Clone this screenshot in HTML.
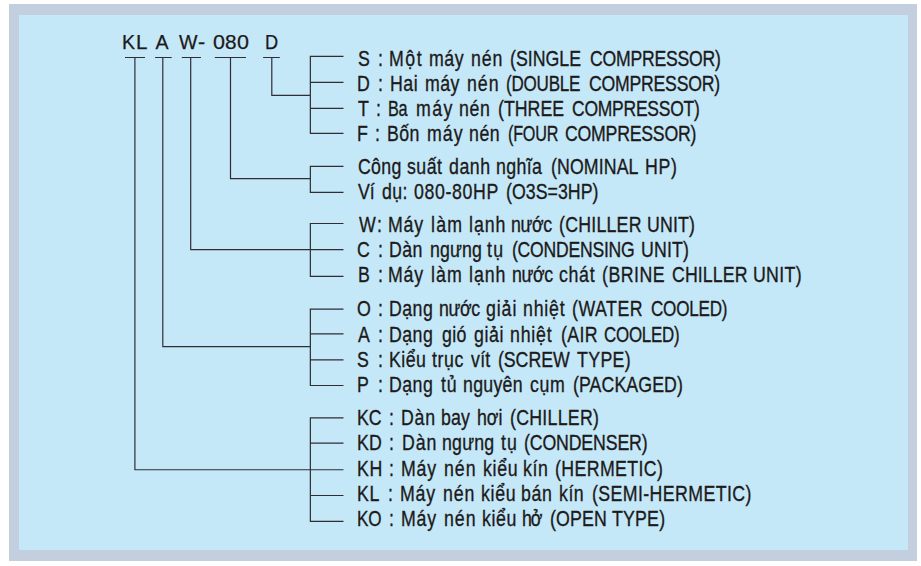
<!DOCTYPE html>
<html><head><meta charset="utf-8"><style>
html,body{margin:0;padding:0;background:#fff;width:921px;height:566px;overflow:hidden}
.o{position:absolute;left:9px;top:4px;width:908px;height:557px;background:#c3cfde}
.i{position:absolute;left:19px;top:15px;width:889px;height:535px;background:#c5e8f8}
.t{position:absolute;left:358.8px;white-space:nowrap;font-family:"Liberation Sans",sans-serif;font-size:22.2px;line-height:1;color:#1c1a1a;-webkit-text-stroke:0.35px #1c1a1a;transform-origin:0 0}
.ti{position:absolute;top:33.0px;white-space:nowrap;font-family:"Liberation Sans",sans-serif;font-size:19.6px;line-height:1;color:#1c1a1a;-webkit-text-stroke:0.25px #1c1a1a;transform-origin:0 0}
svg{position:absolute;left:0;top:0}
</style></head><body>
<div class="o"></div><div class="i"></div>
<svg width="921" height="566"><path d="M125 57.5H145 M134.9 57.5V469.75H310.35 M155.1 57.5H171.7 M162.8 57.5V346.7H310.35 M181.8 57.5H201 M190.7 57.5V249.7H310.35 M214.8 57.5H246 M230.5 57.5V178.7H310.35 M263.1 57.5H279.8 M271.8 57.5V95.4H310.35 M343.5 56.3H310.35V133.4H343.5 M310.35 82.4H343.5 M310.35 108.3H343.5 M343.5 166.4H310.35V192.4H343.5 M343.5 223.5H310.35V276.4H343.5 M310.35 249.7H343.5 M343.5 309.2H310.35V385.5H343.5 M310.35 333.8H343.5 M310.35 359.8H343.5 M343.5 417.8H310.35V521.3H343.5 M310.35 443.2H343.5 M310.35 469.75H343.5 M310.35 495.5H343.5" stroke="#2e2e33" stroke-width="1.2" fill="none"/></svg>
<div class="ti" style="left:122.05px;transform:scaleX(1.0)">K</div><div class="ti" style="left:136.46px;transform:scaleX(1.05)">L</div><div class="ti" style="left:155.50px;transform:scaleX(1.0)">A</div><div class="ti" style="left:179.00px;transform:scaleX(1.0)">W</div><div class="ti" style="left:198.17px;transform:scaleX(1.1)">-</div><div class="ti" style="left:213.11px;transform:scaleX(1.1)">0</div><div class="ti" style="left:225.32px;transform:scaleX(1.06)">8</div><div class="ti" style="left:236.81px;transform:scaleX(1.1)">0</div><div class="ti" style="left:265.47px;transform:scaleX(0.93)">D</div>
<div class="t" style="left:357.73px;top:48.21px;letter-spacing:0.00px;transform:scaleX(0.8000)">S</div>
<div class="t" style="left:377.61px;top:48.21px;letter-spacing:0.00px;transform:scaleX(0.8000)">:</div>
<div class="t" style="left:388.83px;top:48.21px;letter-spacing:1.86px;transform:scaleX(0.8000)">Một</div>
<div class="t" style="left:428.54px;top:48.21px;letter-spacing:0.69px;transform:scaleX(0.8000)">máy</div>
<div class="t" style="left:471.23px;top:48.21px;letter-spacing:1.04px;transform:scaleX(0.8000)">nén</div>
<div class="t" style="left:510.48px;top:48.21px;letter-spacing:-0.00px;transform:scaleX(0.8000)">(SINGLE</div>
<div class="t" style="left:589.93px;top:48.21px;letter-spacing:-0.30px;transform:scaleX(0.7954)">COMPRESSOR)</div>
<div class="t" style="left:356.98px;top:73.21px;letter-spacing:0.00px;transform:scaleX(0.8000)">D</div>
<div class="t" style="left:378.16px;top:73.21px;letter-spacing:0.00px;transform:scaleX(0.8000)">:</div>
<div class="t" style="left:390.28px;top:73.21px;letter-spacing:0.66px;transform:scaleX(0.8000)">Hai</div>
<div class="t" style="left:424.88px;top:73.21px;letter-spacing:0.58px;transform:scaleX(0.8000)">máy</div>
<div class="t" style="left:466.91px;top:73.21px;letter-spacing:1.19px;transform:scaleX(0.8000)">nén</div>
<div class="t" style="left:506.22px;top:73.21px;letter-spacing:-0.30px;transform:scaleX(0.7683)">(DOUBLE</div>
<div class="t" style="left:589.42px;top:73.21px;letter-spacing:-0.30px;transform:scaleX(0.7961)">COMPRESSOR)</div>
<div class="t" style="left:357.91px;top:98.21px;letter-spacing:0.00px;transform:scaleX(0.8000)">T</div>
<div class="t" style="left:375.81px;top:98.21px;letter-spacing:0.00px;transform:scaleX(0.8000)">:</div>
<div class="t" style="left:388.38px;top:98.21px;letter-spacing:-0.30px;transform:scaleX(0.7320)">Ba</div>
<div class="t" style="left:416.48px;top:98.21px;letter-spacing:1.70px;transform:scaleX(0.8000)">máy</div>
<div class="t" style="left:458.93px;top:98.21px;letter-spacing:0.85px;transform:scaleX(0.8000)">nén</div>
<div class="t" style="left:498.18px;top:98.21px;letter-spacing:0.02px;transform:scaleX(0.8000)">(THREE</div>
<div class="t" style="left:572.33px;top:98.21px;letter-spacing:-0.30px;transform:scaleX(0.7885)">COMPRESSOT)</div>
<div class="t" style="left:357.35px;top:123.21px;letter-spacing:0.00px;transform:scaleX(0.8000)">F</div>
<div class="t" style="left:375.41px;top:123.21px;letter-spacing:0.00px;transform:scaleX(0.8000)">:</div>
<div class="t" style="left:387.30px;top:123.21px;letter-spacing:0.49px;transform:scaleX(0.8000)">Bốn</div>
<div class="t" style="left:427.10px;top:123.21px;letter-spacing:1.36px;transform:scaleX(0.8000)">máy</div>
<div class="t" style="left:469.23px;top:123.21px;letter-spacing:0.66px;transform:scaleX(0.8000)">nén</div>
<div class="t" style="left:507.88px;top:123.21px;letter-spacing:-0.30px;transform:scaleX(0.7297)">(FOUR</div>
<div class="t" style="left:565.32px;top:123.21px;letter-spacing:-0.30px;transform:scaleX(0.7979)">COMPRESSOR)</div>
<div class="t" style="left:357.56px;top:156.21px;letter-spacing:0.35px;transform:scaleX(0.8000)">Công</div>
<div class="t" style="left:407.32px;top:156.21px;letter-spacing:0.55px;transform:scaleX(0.8000)">suất</div>
<div class="t" style="left:448.88px;top:156.21px;letter-spacing:0.68px;transform:scaleX(0.8000)">danh</div>
<div class="t" style="left:496.25px;top:156.21px;letter-spacing:0.47px;transform:scaleX(0.8000)">nghĩa</div>
<div class="t" style="left:550.58px;top:156.21px;letter-spacing:0.12px;transform:scaleX(0.8000)">(NOMINAL</div>
<div class="t" style="left:645.09px;top:156.21px;letter-spacing:0.85px;transform:scaleX(0.8000)">HP)</div>
<div class="t" style="left:357.94px;top:181.21px;letter-spacing:-0.24px;transform:scaleX(0.8000)">Ví</div>
<div class="t" style="left:382.08px;top:181.21px;letter-spacing:0.43px;transform:scaleX(0.8000)">dụ:</div>
<div class="t" style="left:414.48px;top:181.21px;letter-spacing:0.80px;transform:scaleX(0.8000)">080-80HP</div>
<div class="t" style="left:506.38px;top:181.21px;letter-spacing:0.03px;transform:scaleX(0.8000)">(O3S=3HP)</div>
<div class="t" style="left:359.04px;top:214.21px;letter-spacing:1.98px;transform:scaleX(0.8000)">W:</div>
<div class="t" style="left:387.57px;top:214.21px;letter-spacing:1.00px;transform:scaleX(0.8000)">Máy</div>
<div class="t" style="left:430.62px;top:214.21px;letter-spacing:1.58px;transform:scaleX(0.8000)">làm</div>
<div class="t" style="left:468.82px;top:214.21px;letter-spacing:1.19px;transform:scaleX(0.8000)">lạnh</div>
<div class="t" style="left:510.77px;top:214.21px;letter-spacing:-0.49px;transform:scaleX(0.8000)">nước</div>
<div class="t" style="left:558.78px;top:214.21px;letter-spacing:0.28px;transform:scaleX(0.8000)">(CHILLER</div>
<div class="t" style="left:647.21px;top:214.21px;letter-spacing:0.21px;transform:scaleX(0.8000)">UNIT)</div>
<div class="t" style="left:357.33px;top:239.21px;letter-spacing:0.00px;transform:scaleX(0.8000)">C</div>
<div class="t" style="left:377.76px;top:239.21px;letter-spacing:0.00px;transform:scaleX(0.8000)">:</div>
<div class="t" style="left:388.98px;top:239.21px;letter-spacing:0.47px;transform:scaleX(0.8000)">Dàn</div>
<div class="t" style="left:429.54px;top:239.21px;letter-spacing:0.18px;transform:scaleX(0.8000)">ngưng</div>
<div class="t" style="left:486.52px;top:239.21px;letter-spacing:1.78px;transform:scaleX(0.8000)">tụ</div>
<div class="t" style="left:512.29px;top:239.21px;letter-spacing:-0.30px;transform:scaleX(0.7931)">(CONDENSING</div>
<div class="t" style="left:641.21px;top:239.21px;letter-spacing:0.21px;transform:scaleX(0.8000)">UNIT)</div>
<div class="t" style="left:357.54px;top:264.21px;letter-spacing:0.00px;transform:scaleX(0.8000)">B</div>
<div class="t" style="left:377.61px;top:264.21px;letter-spacing:0.00px;transform:scaleX(0.8000)">:</div>
<div class="t" style="left:388.37px;top:264.21px;letter-spacing:1.00px;transform:scaleX(0.8000)">Máy</div>
<div class="t" style="left:431.40px;top:264.21px;letter-spacing:1.36px;transform:scaleX(0.8000)">làm</div>
<div class="t" style="left:469.14px;top:264.21px;letter-spacing:1.22px;transform:scaleX(0.8000)">lạnh</div>
<div class="t" style="left:512.35px;top:264.21px;letter-spacing:-0.52px;transform:scaleX(0.8000)">nước</div>
<div class="t" style="left:559.01px;top:264.21px;letter-spacing:0.84px;transform:scaleX(0.8000)">chát</div>
<div class="t" style="left:602.38px;top:264.21px;letter-spacing:0.62px;transform:scaleX(0.8000)">(BRINE</div>
<div class="t" style="left:671.72px;top:264.21px;letter-spacing:0.11px;transform:scaleX(0.8000)">CHILLER</div>
<div class="t" style="left:753.29px;top:264.21px;letter-spacing:0.38px;transform:scaleX(0.8000)">UNIT)</div>
<div class="t" style="left:356.78px;top:298.21px;letter-spacing:0.00px;transform:scaleX(0.8000)">O</div>
<div class="t" style="left:377.61px;top:298.21px;letter-spacing:0.00px;transform:scaleX(0.8000)">:</div>
<div class="t" style="left:388.97px;top:298.21px;letter-spacing:0.56px;transform:scaleX(0.8000)">Dạng</div>
<div class="t" style="left:438.75px;top:298.21px;letter-spacing:-0.51px;transform:scaleX(0.8000)">nước</div>
<div class="t" style="left:486.34px;top:298.21px;letter-spacing:1.13px;transform:scaleX(0.8000)">giải</div>
<div class="t" style="left:523.11px;top:298.21px;letter-spacing:0.99px;transform:scaleX(0.8000)">nhiệt</div>
<div class="t" style="left:572.48px;top:298.21px;letter-spacing:0.63px;transform:scaleX(0.8000)">(WATER</div>
<div class="t" style="left:651.25px;top:298.21px;letter-spacing:-0.30px;transform:scaleX(0.7709)">COOLED)</div>
<div class="t" style="left:357.93px;top:324.21px;letter-spacing:0.00px;transform:scaleX(0.8000)">A</div>
<div class="t" style="left:377.61px;top:324.21px;letter-spacing:0.00px;transform:scaleX(0.8000)">:</div>
<div class="t" style="left:388.97px;top:324.21px;letter-spacing:0.56px;transform:scaleX(0.8000)">Dạng</div>
<div class="t" style="left:441.92px;top:324.21px;letter-spacing:0.49px;transform:scaleX(0.8000)">gió</div>
<div class="t" style="left:473.58px;top:324.21px;letter-spacing:0.80px;transform:scaleX(0.8000)">giải</div>
<div class="t" style="left:510.11px;top:324.21px;letter-spacing:0.99px;transform:scaleX(0.8000)">nhiệt</div>
<div class="t" style="left:560.87px;top:324.21px;letter-spacing:0.42px;transform:scaleX(0.8000)">(AIR</div>
<div class="t" style="left:604.36px;top:324.21px;letter-spacing:-0.30px;transform:scaleX(0.7616)">COOLED)</div>
<div class="t" style="left:357.48px;top:349.21px;letter-spacing:0.00px;transform:scaleX(0.8000)">S</div>
<div class="t" style="left:377.61px;top:349.21px;letter-spacing:0.00px;transform:scaleX(0.8000)">:</div>
<div class="t" style="left:388.98px;top:349.21px;letter-spacing:0.57px;transform:scaleX(0.8000)">Kiểu</div>
<div class="t" style="left:431.50px;top:349.21px;letter-spacing:0.72px;transform:scaleX(0.8000)">trục</div>
<div class="t" style="left:470.87px;top:349.21px;letter-spacing:0.34px;transform:scaleX(0.8000)">vít</div>
<div class="t" style="left:498.18px;top:349.21px;letter-spacing:-0.08px;transform:scaleX(0.8000)">(SCREW</div>
<div class="t" style="left:577.03px;top:349.21px;letter-spacing:0.45px;transform:scaleX(0.8000)">TYPE)</div>
<div class="t" style="left:357.24px;top:374.21px;letter-spacing:0.00px;transform:scaleX(0.8000)">P</div>
<div class="t" style="left:377.61px;top:374.21px;letter-spacing:0.00px;transform:scaleX(0.8000)">:</div>
<div class="t" style="left:388.97px;top:374.21px;letter-spacing:0.56px;transform:scaleX(0.8000)">Dạng</div>
<div class="t" style="left:441.04px;top:374.21px;letter-spacing:1.10px;transform:scaleX(0.8000)">tủ</div>
<div class="t" style="left:462.80px;top:374.21px;letter-spacing:0.32px;transform:scaleX(0.8000)">nguyên</div>
<div class="t" style="left:530.09px;top:374.21px;letter-spacing:0.81px;transform:scaleX(0.8000)">cụm</div>
<div class="t" style="left:572.78px;top:374.21px;letter-spacing:0.10px;transform:scaleX(0.8000)">(PACKAGED)</div>
<div class="t" style="left:357.10px;top:407.21px;letter-spacing:-0.18px;transform:scaleX(0.8000)">KC</div>
<div class="t" style="left:388.61px;top:407.21px;letter-spacing:0.00px;transform:scaleX(0.8000)">:</div>
<div class="t" style="left:400.94px;top:407.21px;letter-spacing:0.96px;transform:scaleX(0.8000)">Dàn</div>
<div class="t" style="left:441.24px;top:407.21px;letter-spacing:0.15px;transform:scaleX(0.8000)">bay</div>
<div class="t" style="left:477.24px;top:407.21px;letter-spacing:-0.07px;transform:scaleX(0.8000)">hơi</div>
<div class="t" style="left:509.58px;top:407.21px;letter-spacing:0.34px;transform:scaleX(0.8000)">(CHILLER)</div>
<div class="t" style="left:357.21px;top:432.21px;letter-spacing:0.25px;transform:scaleX(0.8000)">KD</div>
<div class="t" style="left:389.31px;top:432.21px;letter-spacing:0.00px;transform:scaleX(0.8000)">:</div>
<div class="t" style="left:401.52px;top:432.21px;letter-spacing:1.11px;transform:scaleX(0.8000)">Dàn</div>
<div class="t" style="left:441.84px;top:432.21px;letter-spacing:0.27px;transform:scaleX(0.8000)">ngưng</div>
<div class="t" style="left:501.32px;top:432.21px;letter-spacing:1.40px;transform:scaleX(0.8000)">tụ</div>
<div class="t" style="left:524.38px;top:432.21px;letter-spacing:-0.20px;transform:scaleX(0.8000)">(CONDENSER)</div>
<div class="t" style="left:357.34px;top:458.21px;letter-spacing:0.73px;transform:scaleX(0.8000)">KH</div>
<div class="t" style="left:389.46px;top:458.21px;letter-spacing:0.00px;transform:scaleX(0.8000)">:</div>
<div class="t" style="left:401.47px;top:458.21px;letter-spacing:1.00px;transform:scaleX(0.8000)">Máy</div>
<div class="t" style="left:444.31px;top:458.21px;letter-spacing:1.19px;transform:scaleX(0.8000)">nén</div>
<div class="t" style="left:482.54px;top:458.21px;letter-spacing:0.86px;transform:scaleX(0.8000)">kiểu</div>
<div class="t" style="left:522.67px;top:458.21px;letter-spacing:0.75px;transform:scaleX(0.8000)">kín</div>
<div class="t" style="left:554.88px;top:458.21px;letter-spacing:0.47px;transform:scaleX(0.8000)">(HERMETIC)</div>
<div class="t" style="left:357.40px;top:483.21px;letter-spacing:0.94px;transform:scaleX(0.8000)">KL</div>
<div class="t" style="left:387.76px;top:483.21px;letter-spacing:0.00px;transform:scaleX(0.8000)">:</div>
<div class="t" style="left:399.67px;top:483.21px;letter-spacing:1.00px;transform:scaleX(0.8000)">Máy</div>
<div class="t" style="left:442.59px;top:483.21px;letter-spacing:1.15px;transform:scaleX(0.8000)">nén</div>
<div class="t" style="left:481.38px;top:483.21px;letter-spacing:0.90px;transform:scaleX(0.8000)">kiểu</div>
<div class="t" style="left:520.99px;top:483.21px;letter-spacing:0.82px;transform:scaleX(0.8000)">bán</div>
<div class="t" style="left:559.31px;top:483.21px;letter-spacing:0.63px;transform:scaleX(0.8000)">kín</div>
<div class="t" style="left:592.38px;top:483.21px;letter-spacing:0.50px;transform:scaleX(0.8000)">(SEMI-HERMETIC)</div>
<div class="t" style="left:357.41px;top:508.21px;letter-spacing:-0.30px;transform:scaleX(0.7716)">KO</div>
<div class="t" style="left:388.61px;top:508.21px;letter-spacing:0.00px;transform:scaleX(0.8000)">:</div>
<div class="t" style="left:400.57px;top:508.21px;letter-spacing:1.00px;transform:scaleX(0.8000)">Máy</div>
<div class="t" style="left:444.31px;top:508.21px;letter-spacing:1.19px;transform:scaleX(0.8000)">nén</div>
<div class="t" style="left:482.36px;top:508.21px;letter-spacing:0.75px;transform:scaleX(0.8000)">kiểu</div>
<div class="t" style="left:521.74px;top:508.21px;letter-spacing:-1.28px;transform:scaleX(0.8000)">hở</div>
<div class="t" style="left:549.93px;top:508.21px;letter-spacing:0.19px;transform:scaleX(0.8000)">(OPEN</div>
<div class="t" style="left:611.51px;top:508.21px;letter-spacing:0.24px;transform:scaleX(0.8000)">TYPE)</div>
</body></html>
